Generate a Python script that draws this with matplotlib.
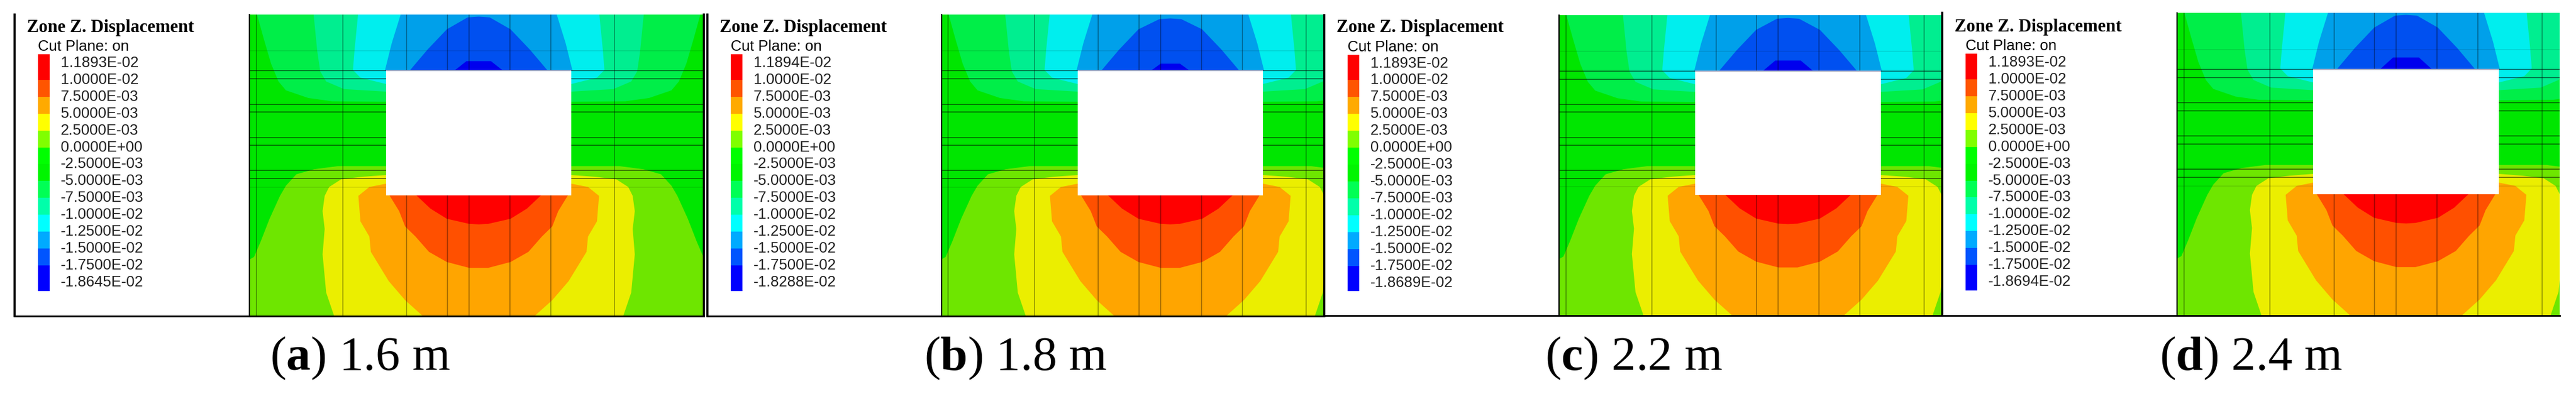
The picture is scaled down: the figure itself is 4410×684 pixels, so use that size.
import numpy as np
import matplotlib
matplotlib.use('Agg')
import matplotlib.pyplot as plt
from matplotlib.patches import Rectangle

plt.rcParams['mathtext.fontset'] = 'custom'
plt.rcParams['mathtext.bf'] = 'Liberation Serif:bold'
plt.rcParams['mathtext.rm'] = 'Liberation Serif'

W, H = 4410, 684

# legend text, same in all panels except first and last
mid_labels = ['1.0000E-02', '7.5000E-03', '5.0000E-03', '2.5000E-03', '0.0000E+00',
              '-2.5000E-03', '-5.0000E-03', '-7.5000E-03', '-1.0000E-02', '-1.2500E-02',
              '-1.5000E-02', '-1.7500E-02']
max_labels = ['1.1893E-02', '1.1894E-02', '1.1893E-02', '1.1893E-02']
min_labels = ['-1.8645E-02', '-1.8288E-02', '-1.8689E-02', '-1.8694E-02']
letters = ['a', 'b', 'c', 'd']
spacings = ['1.6 m', '1.8 m', '2.2 m', '2.4 m']

legend_colors = ['#ff0000', '#ff5500', '#ffaa00', '#ffff00', '#80ff00', '#00ff00', '#00f500',
                 '#00ff55', '#00ffaa', '#00ffff', '#00aaff', '#0055ff', '#0000ff']
# colour cell edges in legend label index
cell_edges = [-0.5, 1, 2, 3, 4, 5, 6, 7, 8, 9, 10, 11, 12, 13.5]

# contour outlines, half width from the opening centre line and depth
top1_x = [744, 722, 697, 672, 647, 572, 492, 311, 0]
top1_y = [57, 150, 250, 320, 355, 385, 398, 400, 400]
top2_x = [554, 542, 532, 512, 452, 311, 0]
top2_y = [57, 200, 280, 320, 350, 360, 360]
top3_x = [405, 417, 422, 397, 311, 0]
top3_y = [57, 200, 275, 305, 330, 330]
top4_x = [262, 292, 315, 0]
top4_y = [57, 170, 278, 278]
top5_x = [232, 172, 107, 37, 0]
top5_y = [278, 195, 115]   # last two points come from blue_top
blue_top = [65, 72, 68, 65]
core_half = [82, 65, 85, 87]
core_top = [240, 250, 236, 232]

bot1_x = [790, 769, 754, 732, 702, 667, 647, 612, 552, 472, 311, 0]
bot1_y = [1243, 1020, 1010, 950, 860, 770, 730, 685, 665, 653, 653, 653]
bot2_x = [485, 512, 524, 517, 524, 517, 502, 462, 392, 311, 0]
bot2_y = [1243, 1150, 1000, 900, 830, 770, 735, 705, 695, 688, 688]
bot3_x = [187, 247, 302, 362, 367, 397, 404, 367, 311, 0]
bot3_y = [1243, 1180, 1105, 990, 930, 870, 770, 735, 722, 722]
bot4_x = [0, 32, 107, 167, 212, 247, 267, 300, 0]
bot4_y = [1053, 1053, 1030, 990, 930, 890, 830, 767, 767]
bot5_x = [0, 32, 107, 162, 210, 0]
bot5_y = [882, 880, 860, 820, 767, 767]

# mesh lines
mesh_x = [-746, -456, -242, -105, -33, 104, 242, 456]
mesh_y = [278, 310, 410, 440, 540, 571, 670, 702]
faint_y = [200, 735]
void_half = 311
void_top, void_bottom = 278, 767

# panel layout in pixels
frame_left = [25, 1211, 2267, 3325]
plot_left = [427, 1612, 2669, 3727]
plot_right = [1205, 2267, 3325, 4382]
void_centre = [819.5, 2003.5, 3061, 4119]
panel_top = [25, 25, 26, 22]
panel_bottom = [542, 542, 541, 541]
title_y = [47, 47, 48, 46.5]
cut_y = [80, 80, 81, 79]
label_y = [107.7, 107.7, 108.5, 106.8]
caption_x = [616, 1739, 2797, 3854]


def add_px_axes(fig, x0, x1, y0, y1):
    return fig.add_axes([x0/W, 1-y1/H, (x1-x0)/W, (y1-y0)/H])


def band(ax, xs, ys, color):
    xs = np.array(xs, dtype=float)
    ys = np.array(ys, dtype=float)
    ax.fill(np.r_[-xs, xs[::-1]], np.r_[ys, ys[::-1]], color=color, lw=0, zorder=2)


fig = plt.figure(figsize=(W/100, H/100), dpi=100, facecolor='white')

for i in range(4):
    top, bottom = panel_top[i], panel_bottom[i]

    # legend side
    lax = add_px_axes(fig, frame_left[i], plot_left[i], top, bottom)
    lax.set_xlim(0, plot_left[i] - frame_left[i])
    lax.set_ylim(bottom-top, 0)
    lax.set_xticks([])
    lax.set_yticks([])
    for s in ['top', 'right']:
        lax.spines[s].set_visible(False)
    lax.spines['left'].set_linewidth(2.6)
    lax.spines['bottom'].set_linewidth(2.2)

    y0 = label_y[i] - top
    dy = 28.96
    lax.text(21, title_y[i]-top, 'Zone Z. Displacement', family='Liberation Serif',
             weight='bold', fontsize=22, va='center', ha='left')
    lax.text(40, cut_y[i]-top, 'Cut Plane: on', family='Liberation Sans', fontsize=18.5, va='center', ha='left')
    labels = [max_labels[i]] + mid_labels + [min_labels[i]]
    for j, lab in enumerate(labels):
        lax.text(79, y0 + j*dy, lab, family='Liberation Sans', fontsize=18.5, va='center', ha='left',
                 color='#222222')
    edges = y0 + np.array(cell_edges)*dy
    lax.bar(np.full(13, 49.5), np.diff(edges), width=20, bottom=edges[:-1], color=legend_colors, lw=0)

    # contour side
    ax = add_px_axes(fig, plot_left[i], plot_right[i], top, bottom)
    unit = 0.51   # pixels per outline unit across
    ax.set_xlim((plot_left[i]-void_centre[i])/unit, (plot_right[i]-void_centre[i])/unit)
    ax.set_ylim(1243, 57)
    ax.set_xticks([])
    ax.set_yticks([])
    ax.spines['top'].set_visible(False)
    if i == 0:
        # only the first panel has a closing line on the right
        ax.spines['right'].set_linewidth(2.6)
    else:
        ax.spines['right'].set_visible(False)
    ax.spines['left'].set_linewidth(1.6)
    ax.spines['bottom'].set_linewidth(2.2)
    ax.set_facecolor('#00e600')

    band(ax, top1_x, top1_y, '#00ee48')
    band(ax, top2_x, top2_y, '#00ee90')
    band(ax, top3_x, top3_y, '#00eeee')
    band(ax, top4_x, top4_y, '#00a0ea')
    band(ax, top5_x, top5_y + [blue_top[i]+3, blue_top[i]], '#0050f0')
    band(ax, [core_half[i], core_half[i]*0.5, 0], [278, core_top[i], core_top[i]], '#0000ee')

    band(ax, bot1_x, bot1_y, '#6ee600')
    band(ax, bot2_x, bot2_y, '#ebee00')
    band(ax, bot3_x, bot3_y, '#ffa500')
    band(ax, bot4_x, bot4_y, '#ff5000')
    band(ax, bot5_x, bot5_y, '#ff0000')

    ax.vlines(mesh_x, 57, 1243, color='black', lw=1.1, alpha=0.4, zorder=3)
    ax.hlines(mesh_y, ax.get_xlim()[0], ax.get_xlim()[1], color='black', lw=1.3, alpha=0.5, zorder=3)
    ax.hlines(faint_y, ax.get_xlim()[0], ax.get_xlim()[1], color='black', lw=1.2, alpha=0.1, zorder=3)

    ax.add_patch(Rectangle((-void_half, void_top), 2*void_half, void_bottom-void_top,
                           facecolor='white', edgecolor='none', zorder=4))
    ax.hlines(void_top, -void_half, void_half, color='#a8b0c8', lw=1.4, zorder=5)

    fig.text(caption_x[i]/W, 1-634/H, '($\\mathbf{%s}$) %s' % (letters[i], spacings[i]),
             family='Liberation Serif', fontsize=60, ha='center', va='baseline')

fig.savefig('out.png', dpi=100)
